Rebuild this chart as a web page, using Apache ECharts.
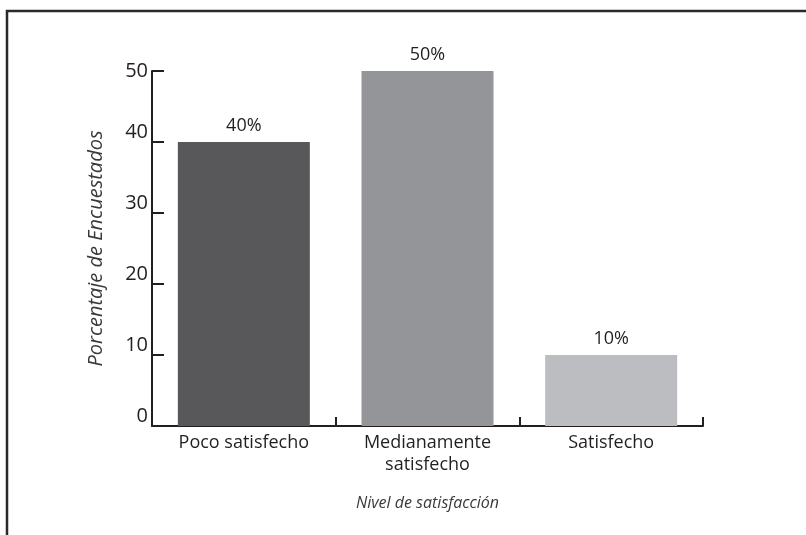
<!DOCTYPE html>
<html>
<head>
<meta charset="utf-8">
<script src="https://cdn.jsdelivr.net/npm/echarts@6/dist/echarts.min.js"></script>
<style>
  html, body { margin: 0; padding: 0; background: #ffffff; }
  #chart { width: 806px; height: 535px; }
</style>
</head>
<body>
<div id="chart"></div>
<script>
// Survey: satisfaction level distribution (percent of respondents)
const categories = ['Poco satisfecho', 'Medianamente\nsatisfecho', 'Satisfecho'];
const percentages = [40, 50, 10];
const barColors = ['#58585a', '#939598', '#bcbdc0'];
const yAxisTitle = 'Porcentaje de Encuestados';
const xAxisTitle = 'Nivel de satisfacción';

const ink = '#231f20';
const font = '"Open Sans", "Noto Sans", sans-serif';

const chart = echarts.init(document.getElementById('chart'), null, { renderer: 'canvas' });

chart.setOption({
  animation: false,
  backgroundColor: '#ffffff',
  grid: { left: 152, right: 103, top: 71, bottom: 109, containLabel: false },
  graphic: [
    {
      type: 'polyline',
      shape: { points: [[7, 535], [7, 11], [806, 11]] },
      style: { stroke: '#2a2a2a', lineWidth: 2.5, fill: null }
    }
  ],
  xAxis: {
    type: 'category',
    data: categories,
    name: xAxisTitle,
    nameLocation: 'middle',
    nameGap: 69,
    nameTextStyle: { fontFamily: font, fontStyle: 'italic', fontSize: 16, color: '#3a3a3a' },
    axisLine: { lineStyle: { color: ink, width: 2 } },
    axisTick: { show: true, inside: true, length: 9, alignWithLabel: false, lineStyle: { color: ink, width: 2 } },
    axisLabel: { fontFamily: font, fontSize: 18, color: ink, margin: 6, lineHeight: 22, interval: 0 }
  },
  yAxis: {
    type: 'value',
    min: 0,
    max: 50,
    interval: 10,
    name: yAxisTitle,
    nameLocation: 'middle',
    nameGap: 46,
    nameRotate: 90,
    nameTextStyle: { fontFamily: font, fontStyle: 'italic', fontSize: 20, color: '#3a3a3a' },
    axisLine: { show: true, lineStyle: { color: ink, width: 2 } },
    axisTick: { show: true, inside: true, length: 12, lineStyle: { color: ink, width: 2 } },
    axisLabel: {
      fontFamily: font, fontSize: 20, color: ink, margin: 4,
      lineHeight: 20,
      verticalAlign: 'bottom',
      verticalAlignMaxLabel: 'middle'
    },
    splitLine: { show: false }
  },
  series: [
    {
      type: 'bar',
      barWidth: 132,
      data: percentages.map((v, i) => ({ value: v, itemStyle: { color: barColors[i] } })),
      label: {
        show: true,
        position: 'top',
        distance: 7,
        formatter: p => p.value + '%',
        fontFamily: font,
        fontSize: 18,
        color: ink
      }
    }
  ]
});
</script>
</body>
</html>
